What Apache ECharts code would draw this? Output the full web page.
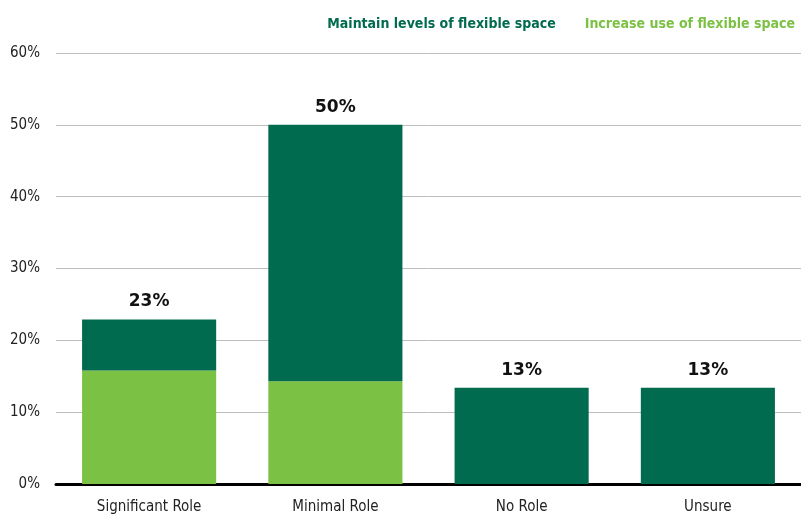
<!DOCTYPE html>
<html>
<head>
<meta charset="utf-8">
<script src="https://cdn.jsdelivr.net/npm/echarts@6/dist/echarts.min.js"></script>
<style>html,body{margin:0;padding:0;background:#fff}#c{width:801px;height:517px}</style>
</head>
<body>
<div id="c"></div>
<script>
var categories = ["Significant Role", "Minimal Role", "No Role", "Unsure"];
var increaseValues = [15.8, 14.3, 0, 0];
var maintainValues = [7.1, 35.7, 13.4, 13.4];
var yTicks = [0, 10, 20, 30, 40, 50, 60];
var seriesNames = ["Maintain levels of flexible space", "Increase use of flexible space"];

function pickFont(list) {
  var ctx = document.createElement('canvas').getContext('2d');
  var s = 'Maintain levels of flexible space 0123456789';
  ctx.font = '40px monospace'; var m = ctx.measureText(s).width;
  ctx.font = '40px serif'; var sf = ctx.measureText(s).width;
  for (var i = 0; i < list.length; i++) {
    ctx.font = "40px '" + list[i] + "', monospace"; var a = ctx.measureText(s).width;
    ctx.font = "40px '" + list[i] + "', serif"; var b = ctx.measureText(s).width;
    if (a !== m || b !== sf) return "'" + list[i] + "'";
  }
  return 'sans-serif';
}
var FONT = pickFont(['Liberation Sans Narrow', 'DejaVu Sans Condensed', 'Roboto Condensed', 'Open Sans Condensed']);

var DARK = "#006B4E", LIGHT = "#7BC143";
var chart = echarts.init(document.getElementById('c'), null, {renderer: 'canvas'});
chart.setOption({
  animation: false,
  legend: {
    top: 12, right: 1, itemWidth: 0, itemHeight: 0, itemGap: 24,
    icon: 'none',
    data: [
      {name: seriesNames[0], textStyle: {color: DARK}},
      {name: seriesNames[1], textStyle: {color: LIGHT}}
    ],
    textStyle: {fontFamily: FONT, fontSize: 14, fontWeight: 'bold'}
  },
  grid: {left: 56, right: -2, top: 53, bottom: 33, containLabel: false},
  xAxis: {
    type: 'category', data: categories,
    axisLine: {lineStyle: {color: '#000', width: 3}},
    axisTick: {show: false},
    axisLabel: {fontFamily: FONT, fontSize: 15, color: '#222', margin: 16}
  },
  yAxis: {
    type: 'value', min: yTicks[0], max: yTicks[yTicks.length - 1], interval: 10,
    axisLine: {show: false}, axisTick: {show: false},
    splitLine: {lineStyle: {color: '#bdbdbd', width: 1}},
    axisLabel: {fontFamily: FONT, fontSize: 15, color: '#222', margin: 16,
      formatter: function (v) { return v + '%'; }}
  },
  series: [
    {
      name: seriesNames[1], type: 'bar', stack: 'total', data: increaseValues,
      barCategoryGap: '28%',
      itemStyle: {color: LIGHT}
    },
    {
      name: seriesNames[0], type: 'bar', stack: 'total', data: maintainValues,
      barCategoryGap: '28%',
      itemStyle: {color: DARK},
      label: {
        show: true, position: 'top', distance: 9,
        fontFamily: "'DejaVu Sans', sans-serif", fontSize: 17, fontWeight: 'bold', color: '#111',
        formatter: function (p) {
          return Math.round(maintainValues[p.dataIndex] + increaseValues[p.dataIndex]) + '%';
        }
      }
    }
  ]
});
</script>
</body>
</html>
